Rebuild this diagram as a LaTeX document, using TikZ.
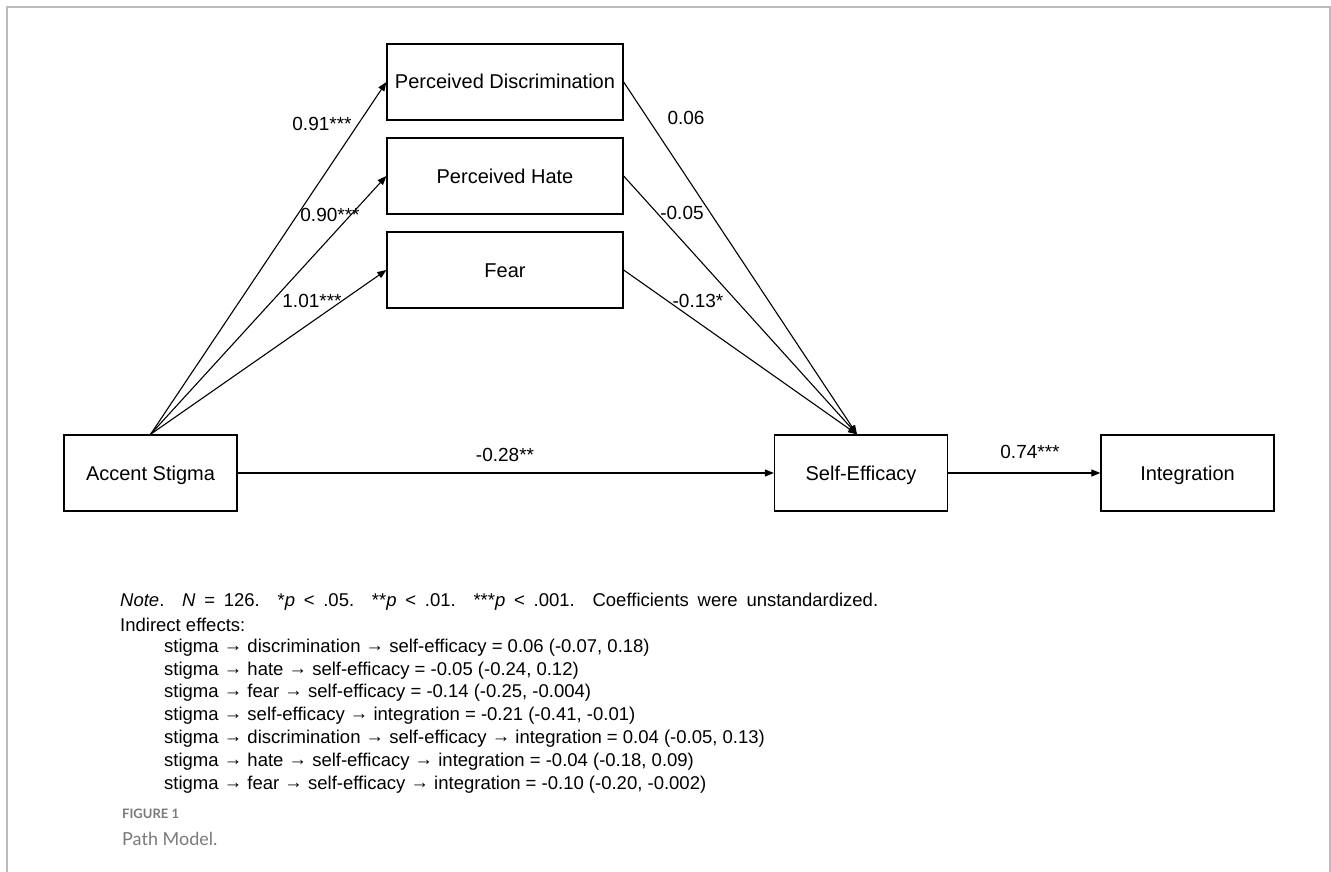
\documentclass[tikz,border=0pt]{standalone}
\usepackage{fontspec}
\setmainfont{Liberation Sans}
\newfontfamily\capfont{Lato}
\usetikzlibrary{arrows.meta}
\definecolor{framegray}{HTML}{BBBBBB}
\definecolor{capgray}{HTML}{7A7A7A}
\newcommand\rarr{\raisebox{1pt}{→}}
\begin{document}
\begin{tikzpicture}[x=1pt,y=-1pt,
 box/.style={draw, line width=1.3pt, minimum width=236pt, minimum height=76pt, inner sep=0pt, text height=18pt, text depth=4pt, font=\fontsize{20}{23}\selectfont},
 sbox/.style={box, minimum width=173pt},
 arr/.style={-{Triangle[length=9pt,width=7pt]}, line width=1.1pt},
 coef/.style={font=\fontsize{19}{22}\selectfont, inner sep=0pt},
 note/.style={anchor=west, font=\fontsize{18.5}{21}\selectfont, inner sep=0pt},
]
\path[use as bounding box] (0,0) rectangle (1331,872);
\draw[framegray, line width=1.5pt] (7,872) -- (7,7) -- (1330,7) -- (1330,872);

\node[box] (pd) at (505,82) {Perceived Discrimination};
\node[box] (ph) at (505,176) {Perceived Hate};
\node[box] (fe) at (505,270) {Fear};
\node[sbox] (as) at (150.5,473) {Accent Stigma};
\node[sbox] (se) at (861,473) {Self-Efficacy};
\node[sbox] (in) at (1187.5,473) {Integration};

\coordinate (sein) at ([xshift=-4pt]se.north);
\draw[arr] (as.north) -- (pd.west);
\draw[arr] (as.north) -- (ph.west);
\draw[arr] (as.north) -- (fe.west);
\draw[arr] (pd.east) -- (sein);
\draw[arr] (ph.east) -- (sein);
\draw[arr] (fe.east) -- (sein);
\draw[arr] (as.east) -- (se.west);
\draw[arr] (se.east) -- (in.west);

\node[coef] (c1) at (322,124) {0.91***};
\node[coef] (c2) at (330,215) {0.90***};
\node[coef] (c3) at (312,301) {1.01***};
\node[coef] (c4) at (686,118) {0.06};
\node[coef] (c5) at (682,213) {-0.05};
\node[coef] (c6) at (698,301) {-0.13*};
\node[coef] (c7) at (505,455) {-0.28**};
\node[coef] (c8) at (1030,452) {0.74***};

\node[note] (n0) at (120,602) {\makebox[758pt][s]{\textit{Note}. \textit{N} = 126. *\textit{p} < .05. **\textit{p} < .01. ***\textit{p} < .001. Coefficients were unstandardized.}};
\node[note] (n1) at (120,625) {Indirect effects:};
\node[note] (n2) at (164,648) {stigma \rarr{} discrimination \rarr{} self-efficacy = 0.06 (-0.07, 0.18)};
\node[note] (n3) at (164,671) {stigma \rarr{} hate \rarr{} self-efficacy = -0.05 (-0.24, 0.12)};
\node[note] (n4) at (164,693) {stigma \rarr{} fear \rarr{} self-efficacy = -0.14 (-0.25, -0.004)};
\node[note] (n5) at (164,716) {stigma \rarr{} self-efficacy \rarr{} integration = -0.21 (-0.41, -0.01)};
\node[note] (n6) at (164,739) {stigma \rarr{} discrimination \rarr{} self-efficacy \rarr{} integration = 0.04 (-0.05, 0.13)};
\node[note] (n7) at (164,762) {stigma \rarr{} hate \rarr{} self-efficacy \rarr{} integration = -0.04 (-0.18, 0.09)};
\node[note] (n8) at (164,785) {stigma \rarr{} fear \rarr{} self-efficacy \rarr{} integration = -0.10 (-0.20, -0.002)};

\node[anchor=west, inner sep=0pt, text=capgray, font=\capfont\bfseries\fontsize{13}{15}\selectfont] (f1) at (122,814) {FIGURE 1};
\node[anchor=west, inner sep=0pt, text=capgray, font=\capfont\fontsize{18}{21}\selectfont] (f2) at (122,839) {Path Model.};
\end{tikzpicture}
\end{document}
